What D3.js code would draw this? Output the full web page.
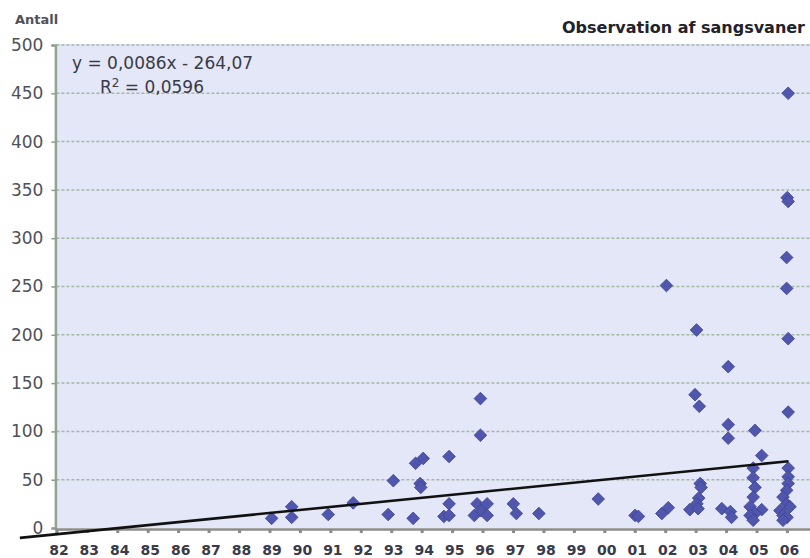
<!DOCTYPE html>
<html>
<head>
<meta charset="utf-8">
<script src="https://cdn.jsdelivr.net/npm/d3@7"></script>
<style>
  html, body { margin: 0; padding: 0; background: #ffffff; }
  svg { display: block; }
</style>
</head>
<body>
<svg id="chart" width="810" height="558"></svg>
<script>
// Observations of whooper swans: date of observation (decimal year) and count
const obsDate = [
  1989.07, 1989.73, 1989.73, 1990.93, 1991.75, 1992.90, 1993.07, 1993.72, 1993.80, 1994.05,
  1993.95, 1993.97, 1994.73, 1994.90, 1994.90, 1994.90, 1995.73, 1995.82, 1995.93, 1995.93,
  1995.95, 1996.15, 1996.15, 1997.01, 1997.11, 1997.85, 1999.80, 2001.01, 2001.12, 2001.89,
  2002.04, 2002.10, 2002.81, 2002.98, 2003.03, 2003.12, 2003.10, 2003.04, 2003.15, 2003.18,
  2003.08, 2003.86, 2004.07, 2004.07, 2004.07, 2004.14, 2004.18, 2004.95, 2005.17, 2004.89,
  2004.89, 2004.95, 2004.89, 2004.79, 2005.17, 2004.95, 2004.79, 2004.89, 2006.04, 2006.01,
  2006.04, 2005.99, 2005.99, 2006.04, 2006.04, 2006.04, 2006.04, 2006.04, 2005.99, 2005.87,
  2005.99, 2006.10, 2005.77, 2005.87, 2006.00, 2005.87
];
const obsCount = [
  10, 22, 11, 14, 26, 14, 49, 10, 67, 72,
  46, 42, 12, 13, 25, 74, 13, 25, 134, 96,
  18, 25, 13, 25, 15, 15, 30, 13, 12, 15,
  251, 21, 19, 138, 205, 126, 31, 25, 46, 42,
  20, 20, 167, 107, 93, 17, 11, 101, 75, 62,
  52, 42, 32, 22, 19, 15, 13, 8, 450, 342,
  338, 280, 248, 196, 120, 62, 53, 46, 39, 32,
  25, 22, 18, 13, 11, 8
];
const yearTicks = d3.range(1982, 2007);
const countTicks = d3.range(0, 501, 50);
// Linear trendline as reported by the spreadsheet (x = date serial number)
const trendSlope = 0.0086;
const trendIntercept = -264.07;
const trendSpan = [1980.8, 2006.05];
const equationText = "y = 0,0086x - 264,07";
const r2Text = " = 0,0596";
const titleText = "Observation af sangsvaner";
const yTitle = "Antall";

const svg = d3.select("#chart");
const x = d3.scaleLinear().domain([1982, 2007]).range([56.4, 817.4]);
const y = d3.scaleLinear().domain([0, 500]).range([528, 45]);

// plot background
svg.append("rect")
  .attr("x", x(1982)).attr("y", y(500) - 1)
  .attr("width", 810 - x(1982)).attr("height", y(0) - y(500) + 1)
  .attr("fill", "#e4e7f8");

// horizontal gridlines
svg.append("g").selectAll("line")
  .data(countTicks.filter(d => d > 0))
  .join("line")
  .attr("x1", x(1982)).attr("x2", 810)
  .attr("y1", d => y(d)).attr("y2", d => y(d))
  .attr("stroke", "#a3b8a3").attr("stroke-width", 1.5)
  .attr("stroke-dasharray", "3,2");

// y axis
const yAxis = svg.append("g")
  .attr("transform", `translate(${x(1982) - 1},0)`)
  .call(d3.axisLeft(y).tickValues(countTicks).tickSize(4).tickPadding(8));
yAxis.select(".domain").attr("stroke", "#93a393").attr("stroke-width", 2.5);
yAxis.selectAll(".tick line").attr("stroke", "#8a9a8a").attr("stroke-width", 1.5);
yAxis.selectAll(".tick text")
  .attr("font-family", "DejaVu Sans, Verdana, sans-serif")
  .attr("font-size", 17).attr("fill", "#505058");

// x axis
const xAxis = svg.append("g")
  .attr("transform", `translate(0,${y(0) + 1})`)
  .call(d3.axisBottom(x).tickValues(yearTicks)
    .tickFormat(d => String(d % 100).padStart(2, "0"))
    .tickSize(4).tickPadding(12));
xAxis.select(".domain").attr("stroke", "#8c8c8c").attr("stroke-width", 2.5);
xAxis.selectAll(".tick line").attr("stroke", "#8a8a8a").attr("stroke-width", 3);
xAxis.selectAll(".tick text")
  .attr("font-family", "DejaVu Sans, Verdana, sans-serif")
  .attr("font-size", 14).attr("font-weight", "bold").attr("fill", "#3a3a48")
  .attr("dx", 2);

// observations as diamonds
const diamond = d3.symbol().type(d3.symbolSquare).size(80);
svg.append("g").selectAll("path")
  .data(obsDate.map((d, i) => ({ date: d, count: obsCount[i] })))
  .join("path")
  .attr("d", diamond)
  .attr("transform", d => `translate(${x(d.date)},${y(d.count)}) rotate(45)`)
  .attr("fill", "#4f56ac")
  .attr("stroke", "#3f4497").attr("stroke-width", 0.8);

// trendline from the reported equation
const toSerial = yr => 25569 + (yr - 1970) * 365.2425;
const trendPts = trendSpan.map(yr => [yr, trendSlope * toSerial(yr) + trendIntercept]);
svg.append("path")
  .attr("d", d3.line().x(d => x(d[0])).y(d => y(d[1]))(trendPts))
  .attr("stroke", "#111111").attr("stroke-width", 2.6).attr("fill", "none");

// equation and R²
const eqFont = "DejaVu Sans, Verdana, sans-serif";
svg.append("text").attr("x", 72).attr("y", 69)
  .attr("font-family", eqFont).attr("font-size", 17).attr("fill", "#3a3a44")
  .text(equationText);
const r2 = svg.append("text").attr("x", 100).attr("y", 93)
  .attr("font-family", eqFont).attr("font-size", 17).attr("fill", "#3a3a44");
r2.append("tspan").text("R");
r2.append("tspan").attr("dy", -6).attr("font-size", 12).text("2");
r2.append("tspan").attr("dy", 6).text(r2Text);

// titles
svg.append("text").attr("x", 15).attr("y", 24)
  .attr("font-family", eqFont).attr("font-size", 13).attr("font-weight", "bold")
  .attr("fill", "#50505a").text(yTitle);
svg.append("text").attr("x", 562).attr("y", 33)
  .attr("font-family", eqFont).attr("font-size", 16).attr("font-weight", "bold")
  .attr("fill", "#22222a").text(titleText);
</script>
</body>
</html>
